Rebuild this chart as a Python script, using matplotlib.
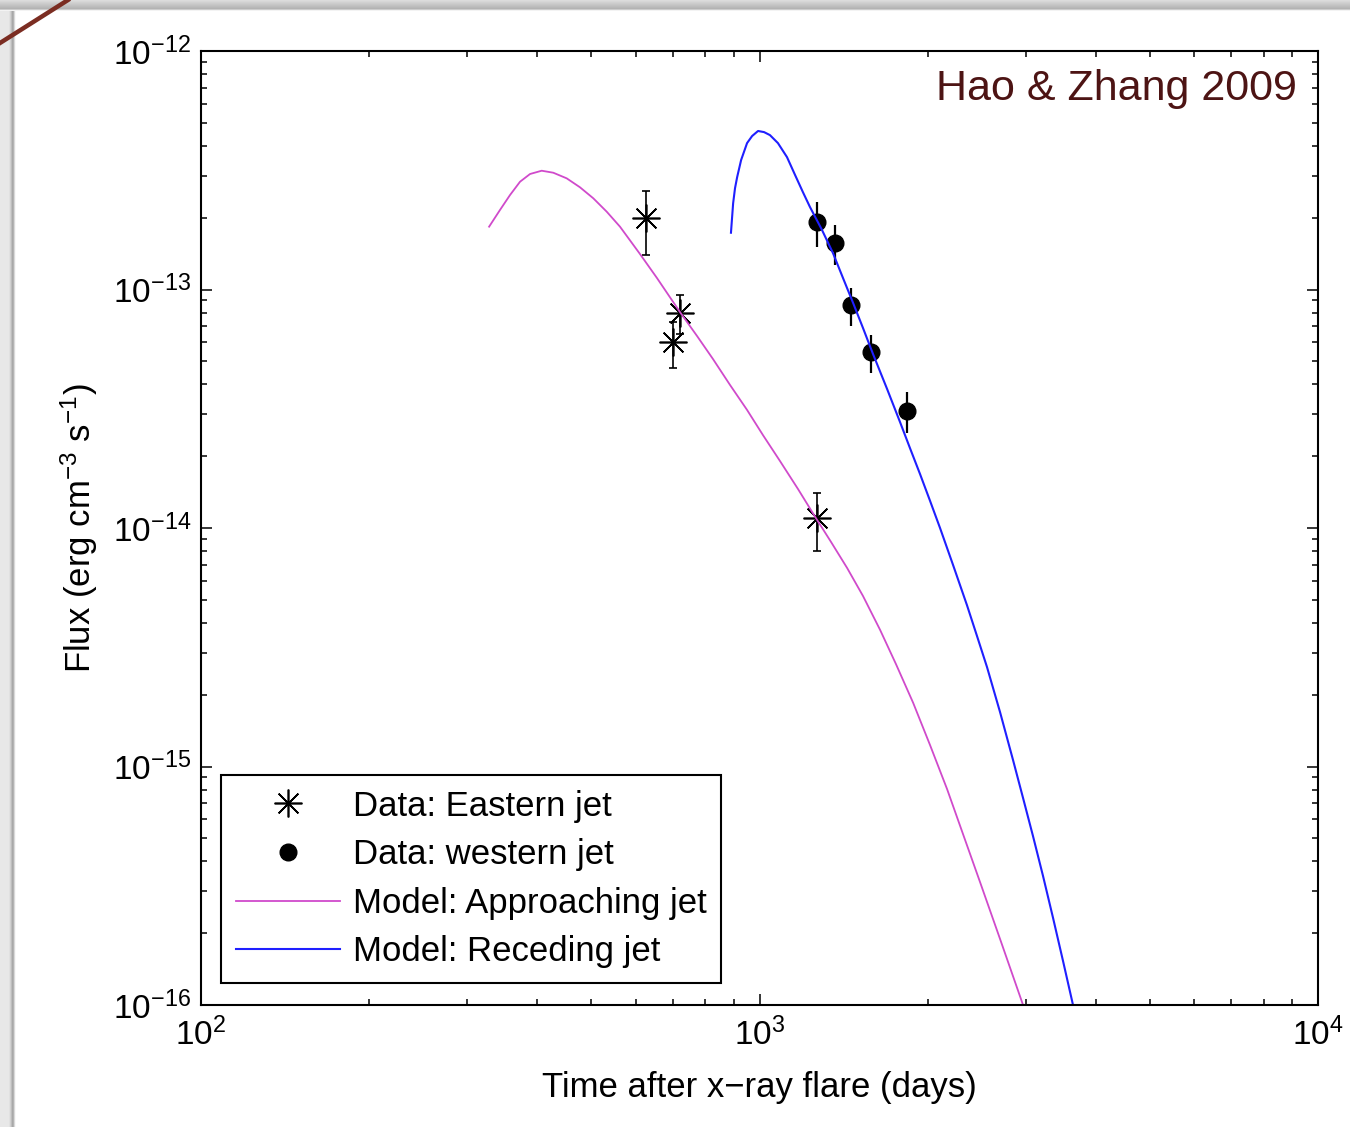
import numpy as np
import matplotlib
matplotlib.use('Agg')
import matplotlib.pyplot as plt
from matplotlib.lines import Line2D
from matplotlib.ticker import FixedLocator, LogLocator, NullFormatter

plt.rcParams['font.family'] = 'Liberation Sans'
plt.rcParams['mathtext.fontset'] = 'custom'
plt.rcParams['mathtext.rm'] = 'Liberation Sans'
plt.rcParams['mathtext.it'] = 'Liberation Sans:italic'
plt.rcParams['mathtext.default'] = 'regular'

# Observed fluxes (days after the x-ray flare, erg cm^-3 s^-1)
east_t = [627, 721, 700, 1268]
east_f = [2.0e-13, 8.0e-14, 6.0e-14, 1.1e-14]
east_err = [0.6e-13, 1.5e-14, 1.3e-14, 0.3e-14]

west_t = [1268, 1365, 1459, 1584, 1837]
west_f = [1.92e-13, 1.57e-13, 8.6e-14, 5.47e-14, 3.1e-14]
west_err = [0.41e-13, 0.3e-13, 1.55e-14, 1.0e-14, 0.6e-14]

# Model light curves
appr_t = [328, 343, 357.5, 372.6, 388.3, 407.4, 427.3, 451.6, 477, 504, 532.6,
          562.6, 610.9, 655.3, 720.5, 773.1, 825.5, 885.5, 949.7, 1014.6,
          1088, 1172, 1262, 1343, 1435, 1532, 1644, 1755, 1884, 2020, 2167,
          2314, 2482, 2707, 2964]
appr_f = [1.834e-13, 2.154e-13, 2.489e-13, 2.831e-13, 3.05e-13, 3.148e-13,
          3.088e-13, 2.925e-13, 2.683e-13, 2.412e-13, 2.12e-13, 1.834e-13,
          1.409e-13, 1.117e-13, 8.04e-14, 6.38e-14, 5.11e-14, 3.98e-14,
          3.13e-14, 2.45e-14, 1.91e-14, 1.457e-14, 1.10e-14, 8.74e-15,
          6.80e-15, 5.19e-15, 3.74e-15, 2.69e-15, 1.85e-15, 1.23e-15,
          8.04e-16, 5.21e-16, 3.28e-16, 1.84e-16, 1.0e-16]

rec_t = [889, 897, 904, 912, 927, 950, 970, 994, 1019, 1044, 1079, 1120, 1158,
         1196, 1231, 1294, 1354, 1411, 1471, 1532, 1597, 1692, 1785, 1860,
         1939, 2020, 2105, 2221, 2352, 2451, 2555, 2696, 2844, 2964, 3088,
         3218, 3354, 3495, 3642]
rec_f = [1.73e-13, 2.30e-13, 2.66e-13, 2.96e-13, 3.49e-13, 4.11e-13, 4.40e-13,
         4.62e-13, 4.57e-13, 4.44e-13, 4.11e-13, 3.59e-13, 3.02e-13, 2.56e-13,
         2.22e-13, 1.776e-13, 1.42e-13, 1.117e-13, 8.78e-14, 6.90e-14,
         5.36e-14, 3.83e-14, 2.78e-14, 2.16e-14, 1.68e-14, 1.30e-14, 1.0e-14,
         7.00e-15, 4.75e-15, 3.53e-15, 2.61e-15, 1.69e-15, 1.065e-15,
         7.38e-16, 5.11e-16, 3.48e-16, 2.32e-16, 1.53e-16, 1.0e-16]

x_ticks = [1e2, 1e3, 1e4]
y_ticks = [1e-16, 1e-15, 1e-14, 1e-13, 1e-12]

W, H = 1350, 1127
fig = plt.figure(figsize=(W / 100, H / 100), dpi=100)

# slide frame: grey bands along the top and left edges
top = fig.add_axes([0, 1 - 11 / H, 1, 11 / H])
top.imshow(np.array([0.86, 0.84, 0.82, 0.80, 0.78, 0.76, 0.74, 0.72, 0.70, 0.80, 0.95])[:, None],
           cmap='gray', vmin=0, vmax=1, aspect='auto', extent=(0, 1, 0, 1))
top.set_axis_off()
left = fig.add_axes([0, 0, 16 / W, 1 - 11 / H])
left.imshow(np.array([0.91] * 9 + [0.88, 0.82, 0.74, 0.66, 0.70, 0.85, 0.97])[None, :],
            cmap='gray', vmin=0, vmax=1, aspect='auto', extent=(0, 1, 0, 1))
left.set_axis_off()
fig.add_artist(Line2D([0, 68 / W], [1 - 43 / H, 1], transform=fig.transFigure,
                      color='#7b2d22', lw=3.2))

ax = fig.add_axes([201 / W, 1 - 1005 / H, 1117 / W, 954 / H])
ax.set_xscale('log')
ax.set_yscale('log')

ax.errorbar(east_t, east_f, yerr=east_err, fmt='none', ecolor='k',
            elinewidth=1.2, capsize=3, capthick=1.2)
ax.plot(east_t, east_f, ls='none', marker=(8, 2, 0), ms=20, mec='k', mew=1.2,
        color='k', label='Data: Eastern jet')
ax.errorbar(west_t, west_f, yerr=west_err, fmt='none', ecolor='k',
            elinewidth=1.6, capsize=0)
ax.plot(west_t, west_f, ls='none', marker='o', ms=12, color='k',
        label='Data: western jet')
ax.plot(appr_t, appr_f, color='#d04acb', lw=1.3, label='Model: Approaching jet')
ax.plot(rec_t, rec_f, color='#1f1fff', lw=1.5, label='Model: Receding jet')

ax.set_xlim(1e2, 1e4)
ax.set_ylim(1e-16, 1e-12)
ax.xaxis.set_major_locator(FixedLocator(x_ticks))
ax.yaxis.set_major_locator(FixedLocator(y_ticks))
ax.xaxis.set_minor_locator(LogLocator(base=10, subs=np.arange(2, 10), numticks=20))
ax.yaxis.set_minor_locator(LogLocator(base=10, subs=np.arange(2, 10), numticks=20))
ax.xaxis.set_minor_formatter(NullFormatter())
ax.yaxis.set_minor_formatter(NullFormatter())
ax.tick_params(which='both', direction='in', top=True, right=True, width=1.1,
               labelsize=24)
ax.tick_params(which='major', length=8)
ax.tick_params(which='minor', length=4)
ax.tick_params(axis='x', pad=9)
ax.tick_params(axis='y', pad=7)
for sp in ax.spines.values():
    sp.set_linewidth(1.5)

ax.set_xlabel('Time after x\u2212ray flare (days)', fontsize=25, labelpad=14)
ax.set_ylabel('Flux (erg cm$^{-3}$ s$^{-1}$)', fontsize=25, labelpad=9)

ax.text(0.981, 0.960, 'Hao & Zhang 2009', transform=ax.transAxes, ha='right',
        va='center', fontsize=31, color='#4d1414')

leg = ax.legend(loc='lower left', bbox_to_anchor=(0.0179, 0.023),
                borderaxespad=0, fontsize=25, handlelength=3.0,
                handletextpad=0.38, labelspacing=0.45, borderpad=0.42,
                fancybox=False, framealpha=1, edgecolor='k')
leg.get_frame().set_linewidth(1.5)

fig.savefig('out.png', dpi=100)
